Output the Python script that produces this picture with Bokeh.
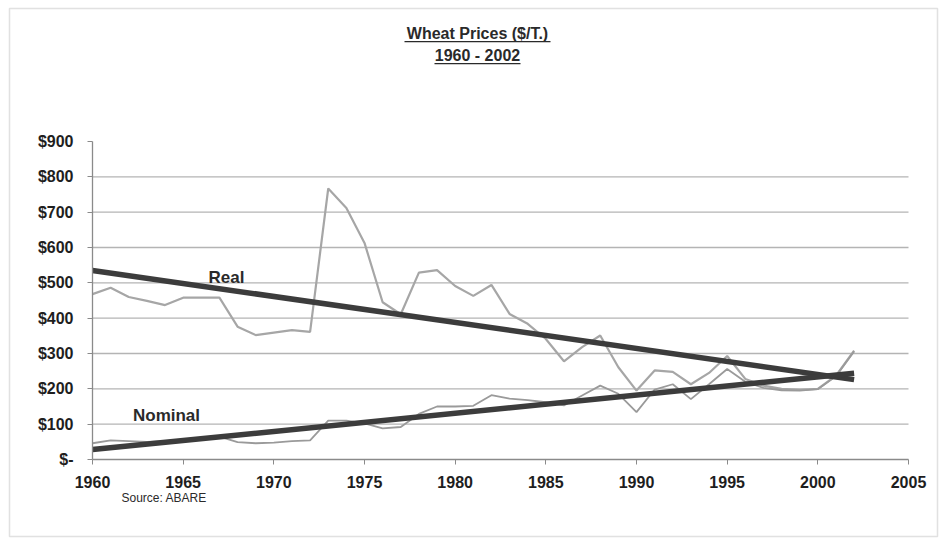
from bokeh.plotting import figure
from bokeh.models import Range1d, FixedTicker, Label, BoxAnnotation, LinearAxis
from bokeh.embed import file_html
from bokeh.resources import INLINE

# Wheat prices, $ per tonne (source: ABARE)
years = list(range(1960, 2003))
real_prices = [468, 486, 460, 449, 437, 458, 458, 458, 376, 352, 359, 366, 361,
               767, 712, 613, 445, 411, 529, 536, 491, 463, 494, 412, 384, 341,
               278, 318, 351, 261, 195, 252, 248, 213, 245, 293, 228, 209, 200,
               197, 200, 237, 308]
nominal_prices = [46, 54, 52, 50, 52, 56, 60, 65, 49, 46, 48, 52, 54,
                  110, 110, 102, 88, 92, 129, 150, 150, 152, 182, 172, 168, 162,
                  153, 181, 209, 186, 134, 198, 213, 171, 213, 256, 220, 203, 196,
                  195, 199, 236, 306]

# linear trend lines, end points
trend_years = [1960, 2002]
real_trend = [535, 226]
nominal_trend = [28, 244]

x_ticks = [1960, 1965, 1970, 1975, 1980, 1985, 1990, 1995, 2000, 2005]
y_ticks = [0, 100, 200, 300, 400, 500, 600, 700, 800, 900]
y_labels = ["$-", "$100", "$200", "$300", "$400", "$500", "$600", "$700", "$800", "$900"]
grid_levels = [100, 200, 300, 400, 500, 600, 700, 800]

W, H = 940, 540
# plot area inside the page, in pixels
PL, PR, PT, PB = 92, 908, 141, 459
X0, X1 = 1960, 2005
Y0, Y1 = 0, 900

def px_x(px):
    return X0 + (px - PL) * (X1 - X0) / (PR - PL)

def px_y(py):
    return Y0 + (PB - py) * (Y1 - Y0) / (PB - PT)

# the frame spans the whole page; the axes sit at fixed data positions
p = figure(width=W, height=H, output_backend="svg", toolbar_location=None,
           x_range=Range1d(px_x(0), px_x(W)), y_range=Range1d(px_y(H), px_y(0)),
           x_axis_location=None, y_axis_location=None,
           min_border=0, background_fill_color="white", border_fill_color="white")
p.outline_line_color = None
p.xgrid.visible = False
p.ygrid.visible = False

FONT = "Liberation Sans"

# horizontal gridlines across the plot area only
p.segment(x0=[X0] * len(grid_levels), x1=[X1] * len(grid_levels),
          y0=grid_levels, y1=grid_levels, line_color="#b4b4b4", line_width=1.3)

xaxis = LinearAxis(fixed_location=Y0, bounds=(X0, X1), ticker=FixedTicker(ticks=x_ticks))
yaxis = LinearAxis(fixed_location=X0, bounds=(Y0, Y1), ticker=FixedTicker(ticks=y_ticks))
yaxis.major_label_overrides = {t: s for t, s in zip(y_ticks, y_labels)}
for ax in (xaxis, yaxis):
    ax.axis_line_color = "#8a8a8a"
    ax.axis_line_width = 1.3
    ax.major_tick_line_color = "#8a8a8a"
    ax.major_tick_out = 5
    ax.major_tick_in = 0
    ax.minor_tick_line_color = None
    ax.major_label_text_font = FONT
    ax.major_label_text_font_style = "bold"
    ax.major_label_text_font_size = "16px"
    ax.major_label_text_color = "#1e1e1e"
xaxis.major_label_standoff = 11
yaxis.major_label_standoff = 14
p.add_layout(xaxis, "below")
p.add_layout(yaxis, "left")

# yearly series
p.line(years, real_prices, line_color="#a6a6a6", line_width=2.2)
p.line(years, nominal_prices, line_color="#9a9a9a", line_width=1.8)

# trend lines
p.line(trend_years, real_trend, line_color="#3c3c3c", line_width=5.5)
p.line(trend_years, nominal_trend, line_color="#3c3c3c", line_width=5.5)

# series labels
p.add_layout(Label(x=px_x(226), y=px_y(277), text="Real", text_font=FONT,
                   text_font_style="bold", text_font_size="17px", text_color="#2a2a2a",
                   text_align="center", text_baseline="middle"))
p.add_layout(Label(x=px_x(166), y=px_y(415), text="Nominal", text_font=FONT,
                   text_font_style="bold", text_font_size="17px", text_color="#2a2a2a",
                   text_align="center", text_baseline="middle"))

# title, underlined
p.add_layout(Label(x=px_x(477), y=px_y(33), text="Wheat Prices ($/T.)", text_font=FONT,
                   text_font_style="bold", text_font_size="16px", text_color="#2a2a2a",
                   text_align="center", text_baseline="middle"))
p.add_layout(Label(x=px_x(477), y=px_y(55), text="1960 - 2002", text_font=FONT,
                   text_font_style="bold", text_font_size="16px", text_color="#2a2a2a",
                   text_align="center", text_baseline="middle"))
p.add_layout(BoxAnnotation(left=px_x(404), right=px_x(550), top=px_y(40.5), bottom=px_y(41.8),
                           fill_color="#2a2a2a", fill_alpha=1, line_color=None))
p.add_layout(BoxAnnotation(left=px_x(434), right=px_x(520), top=px_y(62.5), bottom=px_y(63.8),
                           fill_color="#2a2a2a", fill_alpha=1, line_color=None))

# source note
p.add_layout(Label(x=px_x(121), y=px_y(497), text="Source: ABARE", text_font=FONT,
                   text_font_size="12px", text_color="#2a2a2a",
                   text_align="left", text_baseline="middle"))

# chart border
p.add_layout(BoxAnnotation(left=px_x(9), right=px_x(937), top=px_y(8), bottom=px_y(536),
                           fill_alpha=0, line_color="#9a9a9a", line_width=1.5))

open("out.html", "w").write(file_html(p, INLINE))
